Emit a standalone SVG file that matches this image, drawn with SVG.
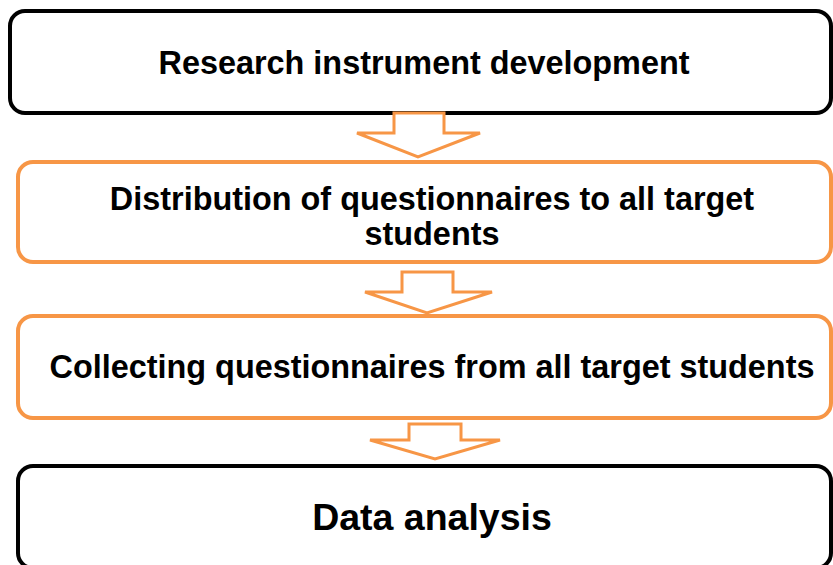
<svg xmlns="http://www.w3.org/2000/svg" width="833" height="565" viewBox="0 0 833 565">
  <style>
    .box { fill: #ffffff; stroke-width: 4; }
    .dark { stroke: #000000; }
    .orange { stroke: #F79646; }
    .arrow { fill: #ffffff; stroke: #F79646; stroke-width: 3; stroke-linejoin: miter; }
    .label { font-family: "Liberation Sans", Arial, sans-serif; font-weight: bold; font-size: 32.4px; fill: #000000; text-anchor: middle; }
  </style>
  <rect width="833" height="565" fill="#ffffff"/>
  <g id="node-research">
    <rect class="box dark" x="10" y="11" width="821" height="102" rx="15" ry="15"/>
    <text class="label" x="424" y="74">Research instrument development</text>
  </g>
  <g id="node-distribution">
    <rect class="box orange" x="18" y="162" width="813" height="100" rx="15" ry="15"/>
    <text class="label" x="432" y="210">Distribution of questionnaires to all target</text>
    <text class="label" x="432" y="245">students</text>
  </g>
  <g id="node-collecting">
    <rect class="box orange" x="18" y="316" width="813" height="102" rx="15" ry="15"/>
    <text class="label" x="432" y="378">Collecting questionnaires from all target students</text>
  </g>
  <g id="node-analysis">
    <rect class="box dark" x="18" y="466" width="813" height="102" rx="15" ry="15"/>
    <text class="label" x="432" y="530" style="font-size:37.5px">Data analysis</text>
  </g>
  <g id="connectors">
    <polygon class="arrow" points="394,113 444,113 444,133 480,133 418,157 357,133 394,133"/>
    <polygon class="arrow" points="402,272 453,272 453,292 492,292 427,313 365,292 402,292"/>
    <polygon class="arrow" points="409,424 461,424 461,440 500,440 435,459 370,440 409,440"/>
  </g>
</svg>
